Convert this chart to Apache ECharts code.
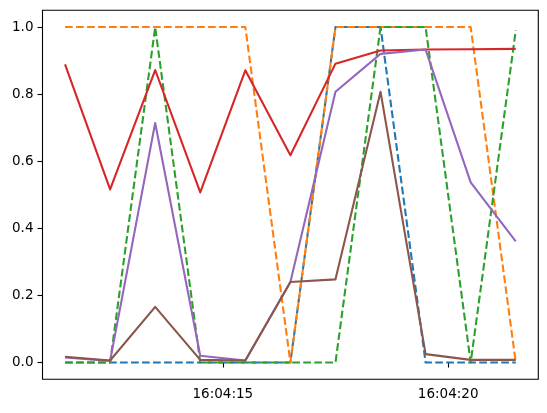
<!DOCTYPE html>
<html>
<head>
<meta charset="utf-8">
<script src="https://cdn.jsdelivr.net/npm/echarts@6/dist/echarts.min.js"></script>
<style>
  html, body { margin: 0; padding: 0; background: #fff; }
  #chart { width: 547px; height: 413px; }
</style>
</head>
<body>
<div id="chart"></div>
<script>
// sample times (hh:mm:ss)
var times = ['16:04:11.5', '16:04:12.5', '16:04:13.5', '16:04:14.5', '16:04:15.5', '16:04:16.5',
             '16:04:17.5', '16:04:18.5', '16:04:19.5', '16:04:20.5', '16:04:21.5'];
var xTicks = ['16:04:15', '16:04:20'];
var yTicks = [0.0, 0.2, 0.4, 0.6, 0.8, 1.0];

// dashed series
var blue   = [0, 0, 0, 0, 0, 0, 1, 1, 0, 0, 0];
var orange = [1, 1, 1, 1, 1, 0, 1, 1, 1, 1, 0];
var green  = [0, 0, 1, 0, 0, 0, 0, 1, 1, 0, 0.99];
// solid series
var red    = [0.889, 0.516, 0.872, 0.507, 0.871, 0.618, 0.891, 0.930, 0.933, 0.934, 0.935];
var purple = [0.015, 0.005, 0.714, 0.020, 0.006, 0.240, 0.807, 0.920, 0.933, 0.537, 0.361];
var brown  = [0.017, 0.006, 0.166, 0.008, 0.006, 0.240, 0.248, 0.807, 0.025, 0.008, 0.008];

function toSec(t) {
  var p = t.split(':');
  return (+p[0]) * 3600 + (+p[1]) * 60 + parseFloat(p[2]);
}
function fmt(v) {
  var h = Math.floor(v / 3600), m = Math.floor((v % 3600) / 60), s = Math.round(v % 60);
  var pad = function (n) { return (n < 10 ? '0' : '') + n; };
  return pad(h) + ':' + pad(m) + ':' + pad(s);
}

var xs = times.map(toSec);
var xMin = xs[0] - 0.5, xMax = xs[xs.length - 1] + 0.5;
var dash = [7.7, 3.3];

function line(name, vals, color, dashed) {
  return {
    name: name,
    type: 'line',
    data: vals.map(function (v, i) { return [xs[i], v]; }),
    showSymbol: false,
    lineStyle: { color: color, width: 2.1, type: dashed ? dash : 'solid', cap: 'butt', join: 'round' },
    itemStyle: { color: color }
  };
}

var chart = echarts.init(document.getElementById('chart'));
chart.setOption({
  animation: false,
  backgroundColor: '#fff',
  grid: {
    left: 42.5, right: 8.7, top: 10.3, bottom: 33.7,
    show: true, borderColor: '#000', borderWidth: 1.1
  },
  xAxis: {
    type: 'value',
    min: xMin, max: xMax,
    splitLine: { show: false },
    axisLine: { show: false },
    axisTick: { show: true, length: 5, lineStyle: { color: '#000', width: 1.1 }, customValues: xTicks.map(toSec) },
    axisLabel: {
      customValues: xTicks.map(toSec),
      formatter: function (v) { return fmt(v); },
      color: '#000', fontFamily: 'DejaVu Sans', fontSize: 13.5, margin: 8
    }
  },
  yAxis: {
    type: 'value',
    min: -0.05, max: 1.05,
    splitLine: { show: false },
    axisLine: { show: false },
    axisTick: { show: true, length: 5, lineStyle: { color: '#000', width: 1.1 }, customValues: yTicks },
    axisLabel: {
      customValues: yTicks,
      formatter: function (v) { return v.toFixed(1); },
      color: '#000', fontFamily: 'DejaVu Sans', fontSize: 13.5, margin: 9
    }
  },
  series: [
    line('C0', blue, '#1f77b4', true),
    line('C1', orange, '#ff7f0e', true),
    line('C2', green, '#2ca02c', true),
    line('C3', red, '#d62728', false),
    line('C4', purple, '#9467bd', false),
    line('C5', brown, '#8c564b', false)
  ]
});
</script>
</body>
</html>
